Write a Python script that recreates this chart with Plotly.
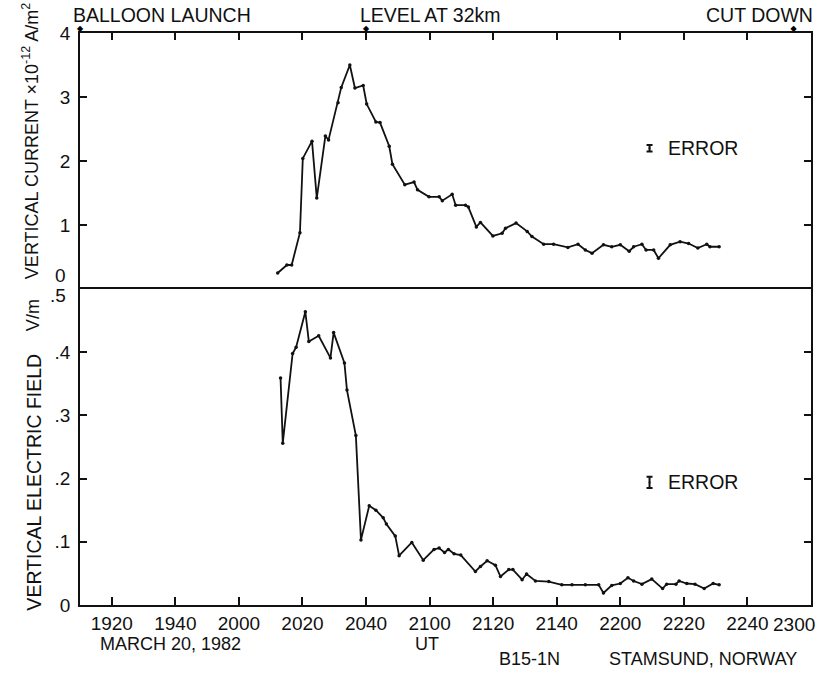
import plotly.graph_objects as go
from plotly.subplots import make_subplots

# Time in minutes after 19:00 UT, March 20, 1982
current_t = [72.2, 75.1, 76.6, 79.2, 80.1, 83.0, 84.5, 87.2, 88.2, 91.2, 92.2, 94.9, 96.5, 99.1,
             100.2, 103.1, 104.4, 107.3, 108.3, 112.2, 115.1, 116.2, 119.8, 123.0, 124.0, 127.1,
             128.2, 131.3, 132.2, 134.7, 136.0, 139.9, 142.8, 143.9, 147.2, 150.7, 152.2, 155.9,
             159.0, 163.5, 166.7, 169.0, 171.1, 174.7, 177.3, 180.0, 182.8, 184.2, 186.8, 188.1,
             190.5, 192.0, 195.7, 198.8, 201.5, 204.4, 207.2, 208.2, 211.1]
current_v = [0.25, 0.375, 0.375, 0.88, 2.04, 2.31, 1.42, 2.39, 2.33, 2.91, 3.15, 3.50, 3.14, 3.18,
             2.89, 2.61, 2.60, 2.23, 1.95, 1.63, 1.67, 1.55, 1.44, 1.44, 1.38, 1.48,
             1.31, 1.31, 1.28, 0.97, 1.04, 0.83, 0.87, 0.95, 1.03, 0.90, 0.82, 0.70,
             0.70, 0.65, 0.70, 0.61, 0.56, 0.69, 0.66, 0.69, 0.59, 0.66, 0.70, 0.61,
             0.61, 0.48, 0.69, 0.74, 0.71, 0.64, 0.70, 0.66, 0.66]

field_t = [73.1, 73.8, 76.9, 78.0, 80.9, 82.0, 85.1, 88.8, 89.8, 93.2, 94.0, 96.8, 98.4, 101.0,
           103.1, 105.4, 106.4, 109.2, 110.4, 114.4, 118.0, 121.4, 123.0, 124.7, 125.9, 127.7,
           129.8, 134.4, 136.0, 138.1, 140.7, 142.3, 144.9, 146.2, 149.1, 150.5, 153.3, 157.5,
           161.6, 164.8, 169.0, 173.2, 174.7, 177.3, 180.0, 182.4, 184.2, 186.8, 189.9, 193.3,
           194.6, 197.5, 198.5, 200.9, 203.5, 206.4, 209.2, 211.1]
field_v = [0.359, 0.256, 0.398, 0.408, 0.464, 0.417, 0.426, 0.391, 0.431, 0.383, 0.340, 0.268, 0.103, 0.157,
           0.150, 0.138, 0.128, 0.109, 0.078, 0.099, 0.071, 0.088, 0.090, 0.083, 0.088, 0.081,
           0.079, 0.053, 0.061, 0.070, 0.063, 0.045, 0.056, 0.056, 0.040, 0.049, 0.038, 0.037,
           0.032, 0.032, 0.032, 0.032, 0.019, 0.031, 0.034, 0.043, 0.038, 0.033, 0.041, 0.026,
           0.033, 0.033, 0.038, 0.034, 0.033, 0.026, 0.034, 0.032]

x_tickvals = [20, 40, 60, 80, 100, 120, 140, 160, 180, 200, 220, 240]
x_ticktext = ["1920", "1940", "2000", "2020", "2040", "2100", "2120", "2140", "2200", "2220", "2240", "2300"]

events_t = [10.0, 100.0, 234.5]
events_label = ["BALLOON LAUNCH", "LEVEL AT 32km", "CUT DOWN"]

err_t = 189.2
err_current = (2.2, 0.05)
err_field = (0.194, 0.009)

cur_ticks = [1, 2, 3, 4]
fld_ticks = [0, 0.1, 0.2, 0.3, 0.4]
fld_ticktext = ["0", ".1", ".2", ".3", ".4"]

FONT = "Liberation Sans, Arial, sans-serif"
BLACK = "#111111"

fig = make_subplots(rows=2, cols=1, shared_xaxes=True, vertical_spacing=0,
                    row_heights=[256, 316])

line_style = dict(color=BLACK, width=1.8)
mk = dict(color=BLACK, size=3.5)

fig.add_trace(go.Scatter(x=current_t, y=current_v, mode="lines+markers", line=line_style,
                         marker=mk, showlegend=False, hoverinfo="skip"), row=1, col=1)
fig.add_trace(go.Scatter(x=field_t, y=field_v, mode="lines+markers", line=line_style,
                         marker=mk, showlegend=False, hoverinfo="skip"), row=2, col=1)

# error bars
fig.add_trace(go.Scatter(x=[err_t], y=[err_current[0]], mode="markers",
                         marker=dict(color=BLACK, size=2),
                         error_y=dict(type="data", array=[err_current[1]], color=BLACK,
                                      thickness=2, width=3),
                         showlegend=False, hoverinfo="skip"), row=1, col=1)
fig.add_trace(go.Scatter(x=[err_t], y=[err_field[0]], mode="markers",
                         marker=dict(color=BLACK, size=2),
                         error_y=dict(type="data", array=[err_field[1]], color=BLACK,
                                      thickness=2, width=3),
                         showlegend=False, hoverinfo="skip"), row=2, col=1)

# event markers sitting on the top axis
fig.add_trace(go.Scatter(x=events_t, y=[4] * len(events_t), mode="text",
                         text=["◆"] * len(events_t), textposition="top center",
                         textfont=dict(family="DejaVu Sans", size=8, color="black"),
                         cliponaxis=False, showlegend=False, hoverinfo="skip"), row=1, col=1)

axis_common = dict(showgrid=False, zeroline=False, showline=True, linecolor=BLACK,
                   linewidth=1.8, ticks="inside", tickcolor=BLACK, tickwidth=1.5,
                   tickfont=dict(family=FONT, size=19, color=BLACK))

fig.update_xaxes(range=[10, 240], tickvals=x_tickvals, **axis_common)
fig.update_xaxes(row=1, col=1, side="top", showticklabels=False, ticklen=7)
fig.update_xaxes(row=2, col=1, ticktext=x_ticktext[:-1] + [""], ticklen=8, mirror=True,
                 ticklabelstandoff=0)
fig.update_yaxes(row=1, col=1, range=[0, 4], tickvals=cur_ticks, ticklen=7,
                 mirror="ticks", ticklabelstandoff=4, **axis_common)
fig.update_yaxes(row=2, col=1, range=[0, 0.5], tickvals=fld_ticks, ticktext=fld_ticktext,
                 ticklen=7, mirror="ticks", ticklabelstandoff=4, **axis_common)

ann_font = dict(family=FONT, size=18, color=BLACK)
big_font = dict(family=FONT, size=19.5, color=BLACK)
tick_font = dict(family=FONT, size=19, color=BLACK)
annotations = []

# last x tick label, kept inside the page as in the original
annotations.append(dict(text=x_ticktext[-1], xref="paper", yref="paper",
                        x=(819 - 80) / 733, y=(605 - 624) / 572, xanchor="right",
                        yanchor="middle", showarrow=False, font=tick_font))

# extra tick labels at the panel boundary
annotations.append(dict(text="0", xref="paper", yref="paper", x=-0.016, y=(605 - 275) / 572,
                        xanchor="right", yanchor="middle", showarrow=False, font=tick_font))
annotations.append(dict(text=".5", xref="paper", yref="paper", x=-0.016, y=(605 - 295) / 572,
                        xanchor="right", yanchor="middle", showarrow=False, font=tick_font))

# event labels
label_y = (605 - 15) / 572
annotations.append(dict(text=events_label[0], xref="paper", yref="paper",
                        x=(71 - 80) / 733, y=label_y, xanchor="left",
                        yanchor="middle", showarrow=False, font=big_font))
annotations.append(dict(text=events_label[1], xref="paper", yref="paper",
                        x=(359 - 80) / 733, y=label_y, xanchor="left",
                        yanchor="middle", showarrow=False, font=big_font))
annotations.append(dict(text=events_label[2], xref="paper", yref="paper",
                        x=(817 - 80) / 733, y=label_y, xanchor="right",
                        yanchor="middle", showarrow=False, font=big_font))

# ERROR labels
annotations.append(dict(text="ERROR", xref="x", yref="y", x=err_t + 5.3, y=err_current[0],
                        xanchor="left", yanchor="middle", showarrow=False, font=big_font))
annotations.append(dict(text="ERROR", xref="x2", yref="y2", x=err_t + 5.3, y=err_field[0],
                        xanchor="left", yanchor="middle", showarrow=False, font=big_font))

# y axis titles
annotations.append(dict(text="VERTICAL CURRENT ×10<sup>-12</sup> A/m<sup>2</sup>",
                        xref="paper", yref="paper", x=(30 - 80) / 733, y=(605 - 281) / 572,
                        xanchor="center", yanchor="bottom", textangle=-90, showarrow=False,
                        font=ann_font))
annotations.append(dict(text="VERTICAL ELECTRIC FIELD", xref="paper", yref="paper",
                        x=(33 - 80) / 733, y=(605 - 613) / 572, xanchor="center",
                        yanchor="bottom", textangle=-90, showarrow=False,
                        font=dict(family=FONT, size=19.5, color=BLACK)))
annotations.append(dict(text="V/m", xref="paper", yref="paper",
                        x=(33 - 80) / 733, y=(605 - 315) / 572, xanchor="center",
                        yanchor="middle", textangle=-90, showarrow=False, font=ann_font))

# bottom texts
annotations.append(dict(text="MARCH 20, 1982", xref="paper", yref="paper",
                        x=(98 - 80) / 733, y=(605 - 644) / 572, xanchor="left",
                        yanchor="middle", showarrow=False, font=ann_font))
annotations.append(dict(text="UT", xref="paper", yref="paper",
                        x=(428 - 80) / 733, y=(605 - 644) / 572, xanchor="center",
                        yanchor="middle", showarrow=False, font=ann_font))
annotations.append(dict(text="B15-1N", xref="paper", yref="paper",
                        x=(498 - 80) / 733, y=(605 - 659) / 572, xanchor="left",
                        yanchor="middle", showarrow=False, font=ann_font))
annotations.append(dict(text="STAMSUND, NORWAY", xref="paper", yref="paper",
                        x=(608 - 80) / 733, y=(605 - 659) / 572, xanchor="left",
                        yanchor="middle", showarrow=False, font=ann_font))

fig.update_layout(width=825, height=673, margin=dict(l=80, r=12, t=33, b=68),
                  plot_bgcolor="white", paper_bgcolor="white", annotations=annotations,
                  font=dict(family=FONT, color=BLACK), showlegend=False)

fig.write_html("out.html")
